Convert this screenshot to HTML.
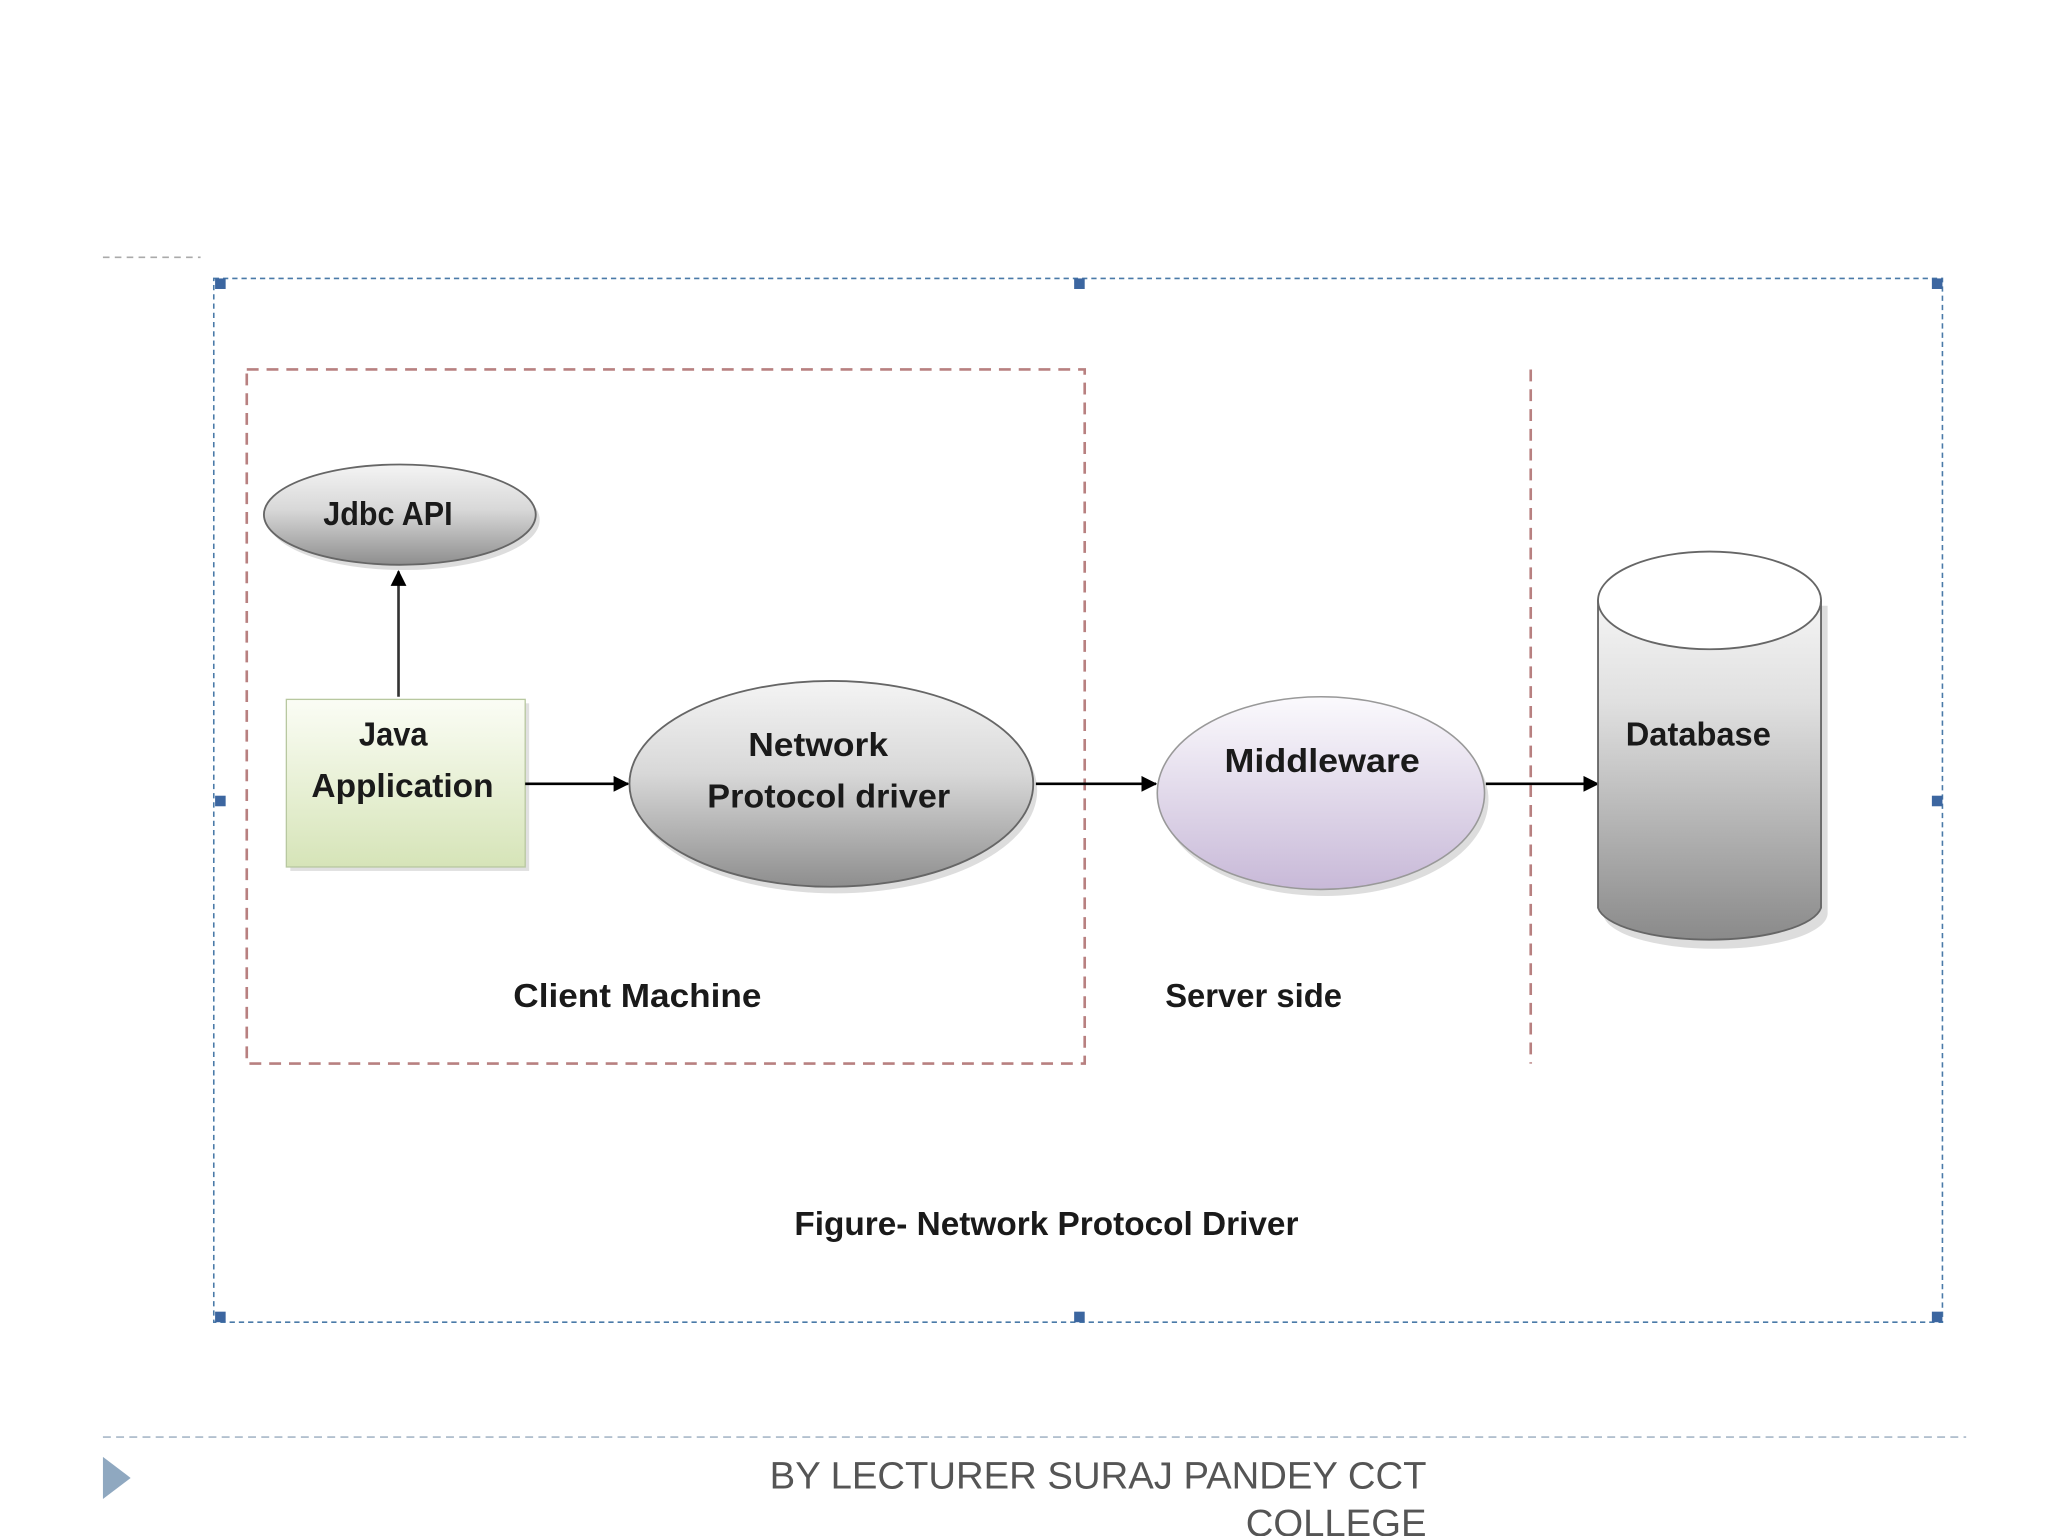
<!DOCTYPE html>
<html><head><meta charset="utf-8"><style>
html,body{margin:0;padding:0;background:#fff;}
svg{display:block;}
text{font-family:"Liberation Sans Narrow","Liberation Sans",sans-serif;fill:#1a1a1a;font-weight:bold;}
</style></head><body>
<svg width="2048" height="1536" viewBox="0 0 1552 1164" xmlns="http://www.w3.org/2000/svg">
<defs>
<linearGradient id="gray" x1="0" y1="0" x2="0" y2="1">
<stop offset="0" stop-color="#f4f4f4"/><stop offset="0.45" stop-color="#d8d8d8"/><stop offset="1" stop-color="#8e8e8e"/></linearGradient>
<linearGradient id="green" x1="0" y1="0" x2="0" y2="1">
<stop offset="0" stop-color="#fbfdf5"/><stop offset="1" stop-color="#d6e4b8"/></linearGradient>
<linearGradient id="lav" x1="0" y1="0" x2="0" y2="1">
<stop offset="0" stop-color="#fbfafd"/><stop offset="1" stop-color="#c8b9d8"/></linearGradient>
<linearGradient id="cyl" x1="0" y1="0" x2="0" y2="1">
<stop offset="0" stop-color="#f4f4f4"/><stop offset="0.3" stop-color="#e0e0e0"/><stop offset="1" stop-color="#8a8a8a"/></linearGradient>
<marker id="ah" markerWidth="12" markerHeight="12" refX="11" refY="6" orient="auto" markerUnits="userSpaceOnUse">
<path d="M0,0 L12,6 L0,12 z" fill="#000"/></marker>
</defs>
<line x1="78" y1="195" x2="152" y2="195" stroke="#aaa" stroke-width="1.2" stroke-dasharray="5,4"/>
<rect x="162" y="211" width="1310" height="791" fill="none" stroke="#4a7aa8" stroke-width="1.2" stroke-dasharray="4,3"/>
<g fill="#3c66a0">
<rect x="163" y="211" width="8" height="8"/><rect x="814" y="211" width="8" height="8"/><rect x="1464" y="211" width="8" height="8"/>
<rect x="163" y="603" width="8" height="8"/><rect x="1464" y="603" width="8" height="8"/>
<rect x="163" y="994" width="8" height="8"/><rect x="814" y="994" width="8" height="8"/><rect x="1464" y="994" width="8" height="8"/>
</g>
<rect x="187" y="280" width="635" height="526" fill="none" stroke="#b88080" stroke-width="2" stroke-dasharray="9,6"/>
<line x1="1160" y1="280" x2="1160" y2="806" stroke="#b88080" stroke-width="2" stroke-dasharray="9,6"/>

<ellipse cx="306" cy="394" rx="103" ry="38" fill="#bbb" opacity="0.5"/>
<ellipse cx="303" cy="390" rx="103" ry="38" fill="url(#gray)" stroke="#666" stroke-width="1.4"/>
<text x="294" y="398" font-size="25" text-anchor="middle" textLength="98" lengthAdjust="spacingAndGlyphs">Jdbc API</text>

<line x1="302" y1="528" x2="302" y2="433" stroke="#333" stroke-width="2" marker-end="url(#ah)"/>

<rect x="220" y="533" width="181" height="127" fill="#ccc" opacity="0.6"/>
<rect x="217" y="530" width="181" height="127" fill="url(#green)" stroke="#b8c8a0" stroke-width="1"/>
<text x="298" y="565" font-size="25" text-anchor="middle" textLength="52" lengthAdjust="spacingAndGlyphs">Java</text>
<text x="305" y="604" font-size="25" text-anchor="middle" textLength="138" lengthAdjust="spacingAndGlyphs">Application</text>

<line x1="398" y1="594" x2="476" y2="594" stroke="#000" stroke-width="2" marker-end="url(#ah)"/>

<ellipse cx="633" cy="599" rx="153" ry="78" fill="#bbb" opacity="0.5"/>
<ellipse cx="630" cy="594" rx="153" ry="78" fill="url(#gray)" stroke="#666" stroke-width="1.4"/>
<text x="620" y="573" font-size="25" text-anchor="middle" textLength="106" lengthAdjust="spacingAndGlyphs">Network</text>
<text x="628" y="612" font-size="25" text-anchor="middle" textLength="184" lengthAdjust="spacingAndGlyphs">Protocol  driver</text>

<line x1="785" y1="594" x2="876" y2="594" stroke="#000" stroke-width="2" marker-end="url(#ah)"/>

<ellipse cx="1004" cy="606" rx="124" ry="73" fill="#bbb" opacity="0.5"/>
<ellipse cx="1001" cy="601" rx="124" ry="73" fill="url(#lav)" stroke="#999" stroke-width="1.2"/>
<text x="1002" y="585" font-size="25" text-anchor="middle" textLength="148" lengthAdjust="spacingAndGlyphs">Middleware</text>

<line x1="1126" y1="594" x2="1211" y2="594" stroke="#000" stroke-width="2" marker-end="url(#ah)"/>

<path d="M1215,459 L1215,692 A85,27 0 0 0 1385,692 L1385,459 Z" fill="#bbb" opacity="0.5"/>
<path d="M1211,455 L1211,688 A85,27 0 0 0 1380,688 L1380,455 Z" fill="url(#cyl)" stroke="#666" stroke-width="1.4"/>
<ellipse cx="1295.5" cy="455" rx="84.5" ry="37" fill="#fff" stroke="#666" stroke-width="1.4"/>
<text x="1287" y="565" font-size="25" text-anchor="middle" textLength="110" lengthAdjust="spacingAndGlyphs">Database</text>

<text x="483" y="763" font-size="25" text-anchor="middle" textLength="188" lengthAdjust="spacingAndGlyphs">Client  Machine</text>
<text x="950" y="763" font-size="25" text-anchor="middle" textLength="134" lengthAdjust="spacingAndGlyphs">Server side</text>
<text x="793" y="936" font-size="25" text-anchor="middle" textLength="382" lengthAdjust="spacingAndGlyphs">Figure- Network Protocol Driver</text>

<line x1="78" y1="1089" x2="1490" y2="1089" stroke="#a8b8c8" stroke-width="1.2" stroke-dasharray="6,4"/>
<path d="M78,1104 L99,1120 L78,1136 Z" fill="#8fa8c0"/>
<text x="1081" y="1128" font-size="29" text-anchor="end" style="font-family:'Liberation Sans',sans-serif;fill:#555;font-weight:normal">BY LECTURER SURAJ PANDEY CCT</text>
<text x="1081" y="1164" font-size="29" text-anchor="end" style="font-family:'Liberation Sans',sans-serif;fill:#555;font-weight:normal">COLLEGE</text>
</svg>
</body></html>
